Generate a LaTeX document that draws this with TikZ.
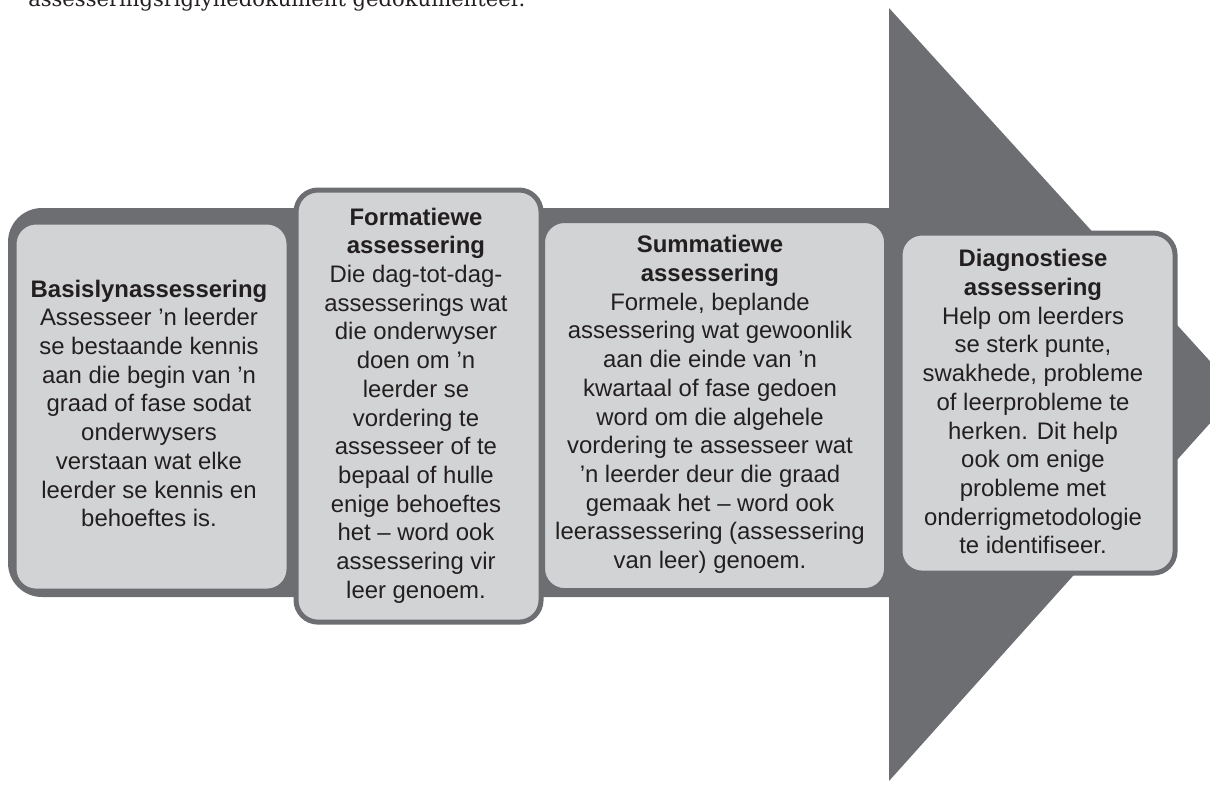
\documentclass[tikz,border=0pt]{standalone}
\usepackage{fontspec}
\setmainfont{Liberation Sans}
\newfontfamily\headserif{DejaVu Serif}
\usetikzlibrary{positioning}
\definecolor{ArrowGray}{HTML}{6D6E71}
\definecolor{BoxGray}{HTML}{D1D3D4}
\definecolor{InkGray}{HTML}{231F20}

\tikzset{
  stagebox/.style={draw=ArrowGray, fill=BoxGray, line width=0.125cm, rounded corners=0.55cm, anchor=north west, inner sep=0pt},
  stagetext/.style={anchor=north, align=center, inner sep=0pt, text=InkGray, font=\fontsize{17}{20.4}\selectfont}
}

\begin{document}
\begin{tikzpicture}[x=0.025cm, y=-0.025cm]
\useasboundingbox (0,0) rectangle (1210,789);
\clip (0,0) rectangle (1210,789);

% cut-off line of the page above
\node[anchor=base west, inner sep=0pt, text=InkGray, font=\headserif\fontsize{15}{18}\selectfont] (pageline) at (28,7) {assesseringsriglynedokument gedokumenteer.};

% big arrow
\fill[ArrowGray] (889,8) -- (1238,392) -- (889,781) -- cycle;
\fill[ArrowGray, rounded corners=0.85cm] (1000,208) -- (8,208) -- (8,597) -- (1000,597) -- cycle;

% boxes
\node[stagebox, minimum width=6.875cm, minimum height=9.225cm] (basis) at (11.5,219.5) {};
\node[stagebox, minimum width=8.6cm, minimum height=9.25cm] (summ) at (540,218) {};
\node[stagebox, minimum width=6.875cm, minimum height=8.5cm] (diag) at (897.5,230.5) {};
\node[stagebox, minimum width=6.125cm, minimum height=10.8cm] (form) at (293.5,187.5) {};

% texts
\node[stagetext] (basistxt) at (149,279.6) {\textbf{Basislynassessering}\\
Assesseer ’n leerder\\
se bestaande kennis\\
aan die begin van ’n\\
graad of fase sodat\\
onderwysers\\
verstaan wat elke\\
leerder se kennis en\\
behoeftes is.};

\node[stagetext] (formtxt) at (416,207.6) {\textbf{Formatiewe}\\
\textbf{assessering}\\
Die dag-tot-dag-\\
assesserings wat\\
die onderwyser\\
doen om ’n\\
leerder se\\
vordering te\\
assesseer of te\\
bepaal of hulle\\
enige behoeftes\\
het – word ook\\
assessering vir\\
leer genoem.};

\node[stagetext] (summtxt) at (710,235.3) {\textbf{Summatiewe}\\
\textbf{assessering}\\
Formele, beplande\\
assessering wat gewoonlik\\
aan die einde van ’n\\
kwartaal of fase gedoen\\
word om die algehele\\
vordering te assesseer wat\\
’n leerder deur die graad\\
gemaak het – word ook\\
leerassessering (assessering\\
van leer) genoem.};

\node[stagetext] (diagtxt) at (1033,249.3) {\textbf{Diagnostiese}\\
\textbf{assessering}\\
Help om leerders\\
se sterk punte,\\
swakhede, probleme\\
of leerprobleme te\\
herken. Dit help\\
ook om enige\\
probleme met\\
onderrigmetodologie\\
te identifiseer.};

\end{tikzpicture}
\end{document}
